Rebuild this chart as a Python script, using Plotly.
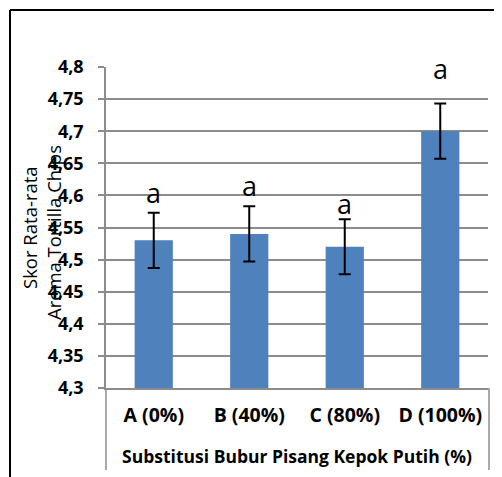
import plotly.graph_objects as go

categories = ["A (0%)", "B (40%)", "C (80%)", "D (100%)"]
mean_scores = [4.53, 4.54, 4.52, 4.70]
error_values = [0.043, 0.043, 0.043, 0.043]
letters = ["a", "a", "a", "a"]
letter_y = [4.604, 4.616, 4.587, 4.797]
tick_values = [4.3, 4.35, 4.4, 4.45, 4.5, 4.55, 4.6, 4.65, 4.7, 4.75, 4.8]
tick_labels = ["4,3", "4,35", "4,4", "4,45", "4,5", "4,55", "4,6", "4,65", "4,7", "4,75", "4,8"]

# page offset (browser body margin)
OFF = 8
W, H = 502 - OFF, 477 - OFF
# plot area in page pixels
PL, PR, PT, PB = 106, 488, 67, 388
L, R, T, B = PL - OFF, W - (PR - OFF), PT - OFF, H - (PB - OFF)
PW, PH = PR - PL, PB - PT


def px(x):
    return (x - PL) / PW


def py(y):
    return (PB - y) / PH


FONT = "Open Sans"
GRID = "#8c8c8c"

fig = go.Figure()
fig.add_trace(go.Bar(
    x=categories, y=mean_scores, width=0.4,
    marker=dict(color="#4F81BD", line=dict(width=0)),
    error_y=dict(type="data", array=error_values, visible=True,
                 color="black", thickness=2, width=6),
    showlegend=False,
))

for c, t, yv in zip(categories, letters, letter_y):
    fig.add_annotation(x=c, y=yv, xref="x", yref="y", text=t, showarrow=False,
                       yanchor="middle", font=dict(family=FONT, size=27, color="black"))

# y axis titles (two lines)
fig.add_annotation(x=px(30), y=py(228), xref="paper", yref="paper", text="Skor Rata-rata",
                   xanchor="center", yanchor="middle",
                   textangle=-90, showarrow=False, font=dict(family=FONT, size=18.5, color="black"))
fig.add_annotation(x=px(53), y=py(233), xref="paper", yref="paper", text="Aroma Tortilla Chips",
                   xanchor="center", yanchor="middle",
                   textangle=-90, showarrow=False, font=dict(family=FONT, size=18.5, color="black"))

shapes = [
    # outer chart frame
    dict(type="line", xref="paper", yref="paper", x0=px(10), x1=px(10), y0=py(10), y1=py(490),
         line=dict(color="black", width=2)),
    dict(type="line", xref="paper", yref="paper", x0=px(10), x1=px(520), y0=py(10), y1=py(10),
         line=dict(color="black", width=2)),
    # category box verticals
    dict(type="line", xref="paper", yref="paper", x0=px(106), x1=px(106), y0=py(388), y1=py(470),
         line=dict(color=GRID, width=1.5)),
    dict(type="line", xref="paper", yref="paper", x0=px(489), x1=px(489), y0=py(388), y1=py(470),
         line=dict(color=GRID, width=1.5)),
]

fig.update_layout(
    width=W, height=H,
    margin=dict(l=L, r=R, t=T, b=B),
    paper_bgcolor="white", plot_bgcolor="white",
    font=dict(family=FONT, color="black"),
    shapes=shapes,
    xaxis=dict(
        showgrid=False, showline=True, linecolor=GRID, linewidth=1.5,
        ticks="", tickfont=dict(family=FONT, size=19.5, weight="bold"),
        ticklabelstandoff=9,
        title=dict(text="Substitusi Bubur Pisang Kepok Putih (%)", standoff=24,
                   font=dict(family=FONT, size=17.5, weight="bold")),
    ),
    yaxis=dict(
        range=[4.3, 4.8], tickvals=tick_values, ticktext=tick_labels,
        showgrid=True, gridcolor=GRID, gridwidth=1.5,
        showline=True, linecolor=GRID, linewidth=1.5,
        ticks="outside", ticklen=6, tickcolor=GRID, tickwidth=1.5,
        ticklabelstandoff=11,
        tickfont=dict(family=FONT, size=18, weight="bold"),
        zeroline=False,
    ),
)

fig.write_html("out.html")
